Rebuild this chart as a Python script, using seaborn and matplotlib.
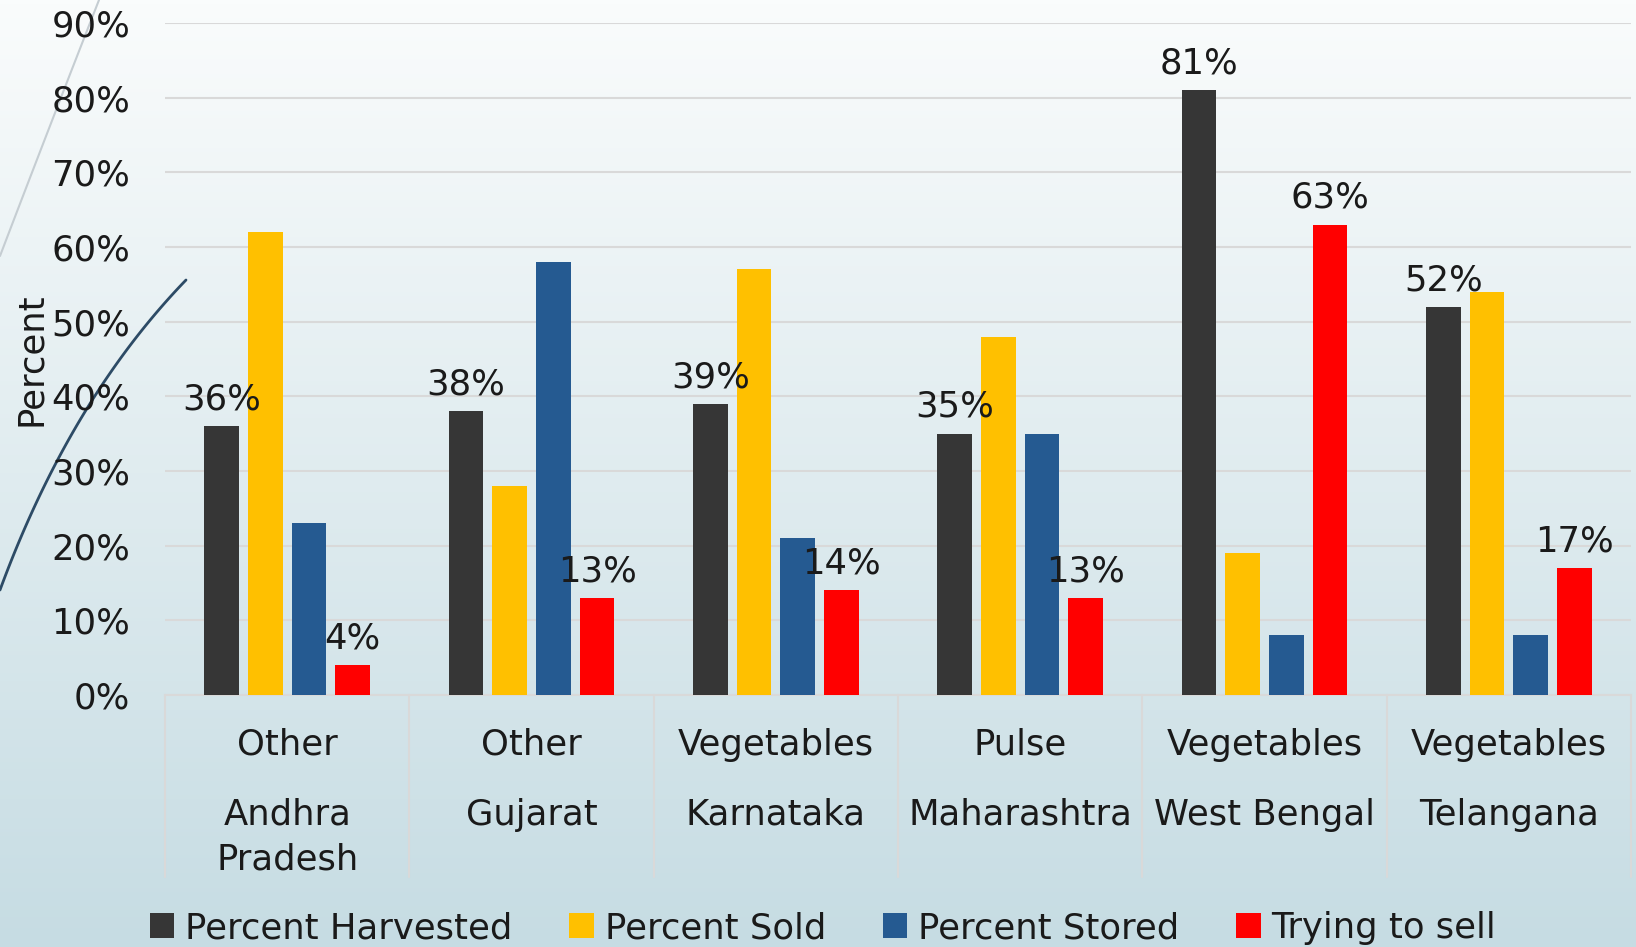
import numpy as np
import pandas as pd
import matplotlib
matplotlib.use('Agg')
import matplotlib.pyplot as plt
import matplotlib.colors as mcolors
import matplotlib.transforms as mtransforms
from matplotlib.patches import Patch
from matplotlib.ticker import FuncFormatter
import seaborn as sns

# data
crops = ['Other', 'Other', 'Vegetables', 'Pulse', 'Vegetables', 'Vegetables']
states = ['Andhra\nPradesh', 'Gujarat', 'Karnataka', 'Maharashtra', 'West Bengal', 'Telangana']
series = ['Percent Harvested', 'Percent Sold', 'Percent Stored', 'Trying to sell']
harvested = [36, 38, 39, 35, 81, 52]
sold = [62, 28, 57, 48, 19, 54]
stored = [23, 58, 21, 35, 8, 8]
trying = [4, 13, 14, 13, 63, 17]
yticks = [0, 10, 20, 30, 40, 50, 60, 70, 80, 90]

colors = ['#363636', '#FFC000', '#255A91', '#FF0000']

df = pd.DataFrame({'state': states,
                   'Percent Harvested': harvested,
                   'Percent Sold': sold,
                   'Percent Stored': stored,
                   'Trying to sell': trying})
long_df = df.melt(id_vars='state', var_name='series', value_name='value')

sns.set_style('white')
plt.rcParams['font.family'] = ['DejaVu Sans']
FS = 25.5
TXT = '#1a1a1a'

W, H = 1636, 947
fig = plt.figure(figsize=(W / 100, H / 100), dpi=100)

# background gradient + decorative curves
bg = fig.add_axes([0, 0, 1, 1], zorder=-10)
top = np.array(mcolors.to_rgb('#fafcfc'))
bot = np.array(mcolors.to_rgb('#c6dce3'))
t = np.linspace(0, 1, 256)[:, None]
grad = (top * (1 - t) + bot * t)[:, None, :]
bg.imshow(grad, extent=[0, W, H, 0], aspect='auto')
tt = np.linspace(0, 1, 100)


def bez(p0, p1, p2):
    p0, p1, p2 = map(np.array, (p0, p1, p2))
    pts = ((1 - tt) ** 2)[:, None] * p0 + (2 * (1 - tt) * tt)[:, None] * p1 + (tt ** 2)[:, None] * p2
    return pts[:, 0], pts[:, 1]


x1, y1 = bez((0, 256), (50, 125), (99, 0))
bg.plot(x1, y1, color='#c5cdd2', lw=1.5)
x2, y2 = bez((0, 590), (70, 400), (186, 280))
bg.plot(x2, y2, color='#2d4b66', lw=2)
bg.set_xlim(0, W)
bg.set_ylim(H, 0)
bg.axis('off')

# main axes
ax = fig.add_axes([165 / W, 1 - 695 / H, 1466 / W, 672 / H])
ax.set_facecolor('none')

sns.barplot(data=long_df, x='state', y='value', hue='series', order=states,
            hue_order=series, palette=colors, width=0.716, gap=0.21,
            saturation=1, errorbar=None, ax=ax, legend=False, zorder=3,
            linewidth=0)

ax.set_ylim(0, 90)
ax.set_xlim(-0.5, len(states) - 0.5)
ax.set_yticks(yticks)
ax.yaxis.set_major_formatter(FuncFormatter(lambda v, p: f'{v:.0f}%'))
ax.grid(axis='y', color='#d9d9d9', lw=1.5, zorder=0)
ax.set_axisbelow(True)
for s in ['top', 'right', 'left']:
    ax.spines[s].set_visible(False)
ax.spines['bottom'].set_color('#d9d9d9')
ax.spines['bottom'].set_linewidth(1.5)
ax.tick_params(axis='y', length=0, pad=25, labelsize=FS, labelcolor=TXT)
ax.tick_params(axis='x', length=0, labelbottom=False)
ax.set_xlabel('')
ax.set_ylabel('Percent', fontsize=FS, color=TXT)
ax.yaxis.set_label_coords(-0.080, 0.5)

# data labels on harvested and trying to sell
for i in [0, 3]:
    ax.bar_label(ax.containers[i], fmt='%.0f%%', padding=7, fontsize=FS, color=TXT)

# two-level category labels with separators
trans = mtransforms.blended_transform_factory(ax.transData, ax.transAxes)
for i, (c, s) in enumerate(zip(crops, states)):
    ax.text(i, -0.074, c, transform=trans, ha='center', va='center', fontsize=FS,
            color=TXT)
    ax.text(i, -0.153, s, transform=trans, ha='center', va='top', fontsize=FS,
            linespacing=1.4, color=TXT)
for xb in np.arange(-0.5, len(states), 1.0):
    ax.plot([xb, xb], [0, -0.271], transform=trans, color='#d9d9d9', lw=1.5,
            clip_on=False)

handles = [Patch(facecolor=c, edgecolor='none') for c in colors]
fig.legend(handles, series, loc='center', bbox_to_anchor=(0.503, 0.020), ncol=4,
           frameon=False, fontsize=FS, handlelength=0.7, handleheight=0.7,
           handletextpad=0.3, columnspacing=1.6, labelcolor=TXT)

fig.savefig('out.png', dpi=100)
